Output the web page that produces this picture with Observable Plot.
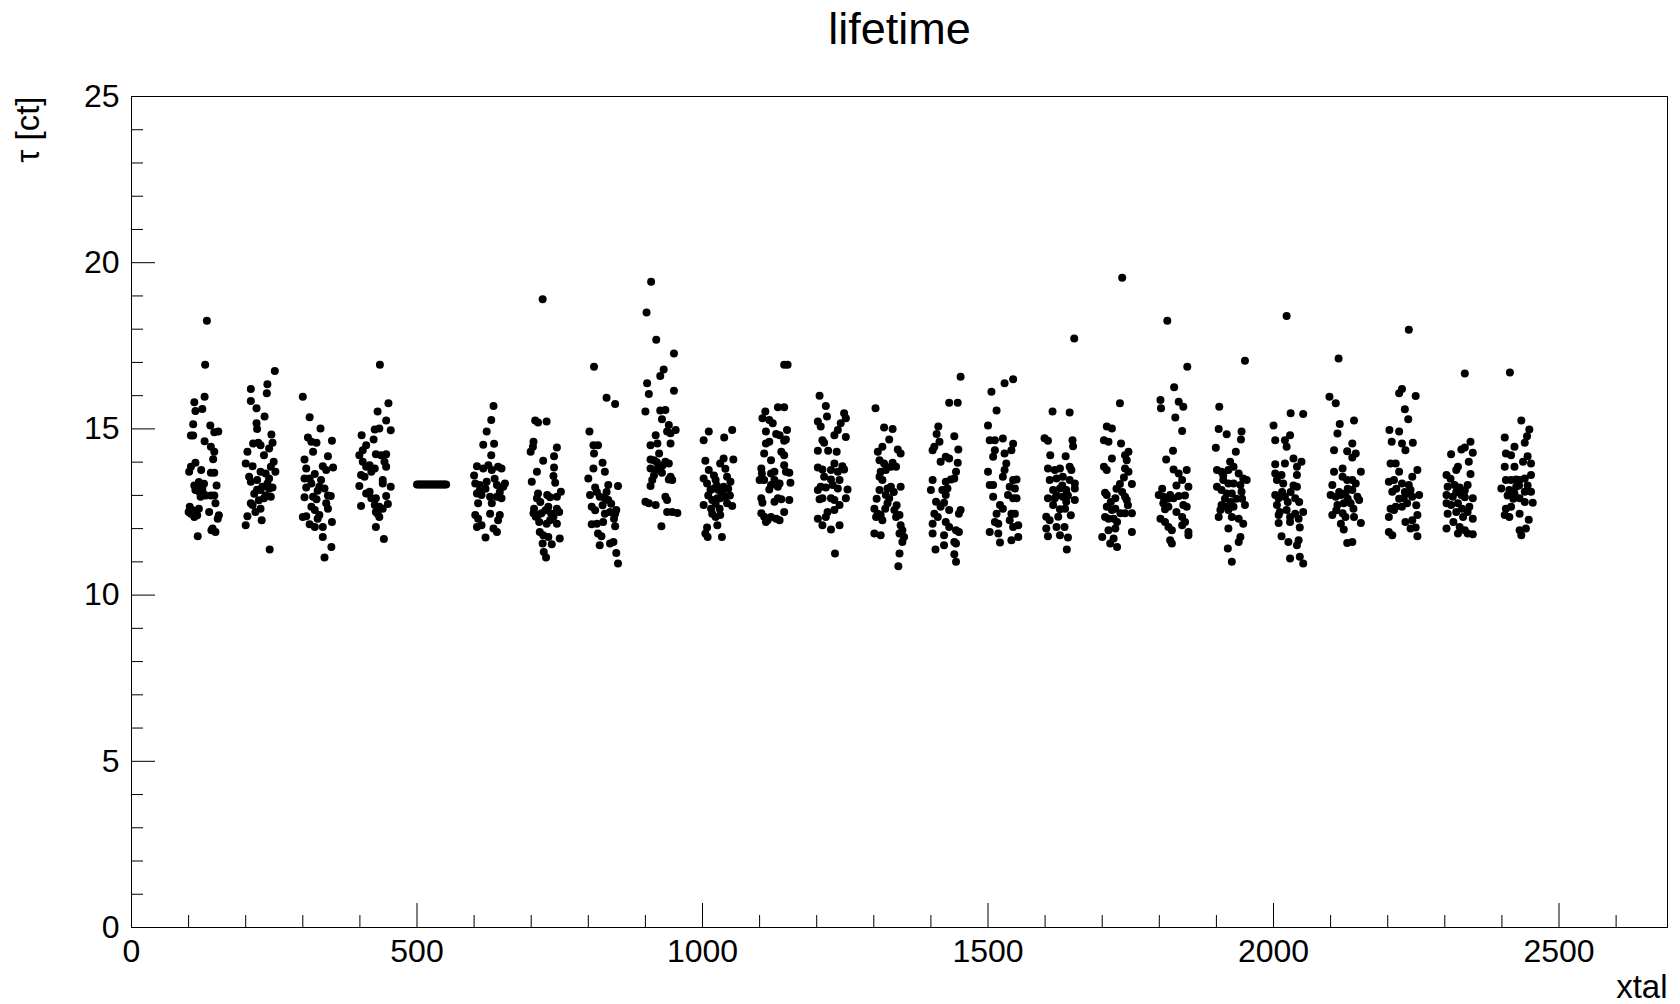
<!DOCTYPE html>
<html><head><meta charset="utf-8">
<script src="https://cdn.jsdelivr.net/npm/d3@7"></script>
<script src="https://cdn.jsdelivr.net/npm/@observablehq/plot@0.6"></script>
<style>body{margin:0;background:#fff;} svg{display:block}</style>
</head><body><div id="chart"></div>
<script>
const title = "lifetime";
const xLabel = "xtal";
const yLabel = "τ [ct]";
const xTicks = [0, 500, 1000, 1500, 2000, 2500];
const xMinorTicks = [100, 200, 300, 400, 600, 700, 800, 900, 1100, 1200, 1300, 1400, 1600, 1700, 1800, 1900, 2100, 2200, 2300, 2400, 2600];
const yTicks = [0, 5, 10, 15, 20, 25];
const yMinorTicks = [1, 2, 3, 4, 6, 7, 8, 9, 11, 12, 13, 14, 16, 17, 18, 19, 21, 22, 23, 24];

const cluster01 = [[132,18.25],[129,16.93],[128,15.97],[110,15.8],[112,15.54],[124,15.6],[108,15.14],[138,15.1],[145,14.9],[152,14.92],[104,14.8],[108,14.8],[128,14.63],[139,14.46],[145,14.31],[143,14.09],[112,13.98],[104,13.86],[101,13.71],[122,13.76],[139,13.68],[145,13.68],[110,13.3],[118,13.4],[127,13.35],[112,13.16],[124,13.2],[130,13.0],[121,12.96],[149,13.3],[145,13.0],[139,13.0],[147,12.76],[102,12.66],[118,12.6],[104,12.45],[110,12.35],[115,12.4],[136,12.5],[153,12.4],[151,12.3],[142,12.0],[147,11.9],[140,11.95],[116,11.77],[114,13.25],[119,13.1],[126,13.05],[107,12.55],[100,12.5]];
const cluster02 = [[251,16.74],[238,16.34],[237,16.07],[209,16.2],[209,15.84],[219,15.62],[233,15.37],[219,15.17],[220,15.0],[245,14.83],[213,14.56],[222,14.58],[226,14.51],[247,14.58],[241,14.41],[203,14.31],[232,14.21],[249,14.01],[244,13.86],[200,13.96],[212,13.88],[226,13.71],[235,13.66],[252,13.71],[206,13.56],[209,13.41],[220,13.46],[229,13.26],[238,13.36],[241,13.51],[220,13.17],[226,13.16],[247,13.24],[241,13.2],[232,12.91],[244,12.96],[209,12.76],[212,12.71],[226,12.6],[217,12.5],[203,12.37],[228,12.25],[200,12.1],[242,11.37],[235,13.0],[223,12.85],[215,13.05]];
const cluster03 = [[300,15.97],[312,15.35],[331,15.01],[309,14.74],[315,14.61],[324,14.58],[351,14.64],[318,14.31],[344,14.18],[303,14.08],[335,13.88],[341,13.76],[353,13.84],[306,13.81],[303,13.51],[312,13.51],[321,13.64],[315,13.36],[332,13.46],[329,13.26],[338,13.21],[326,13.14],[306,13.24],[303,12.94],[318,12.96],[324,12.88],[344,13.0],[349,12.98],[341,12.76],[344,12.6],[315,12.66],[321,12.56],[329,12.41],[326,12.3],[300,12.35],[306,12.37],[312,12.13],[321,12.05],[351,12.2],[335,12.05],[335,11.75],[350,11.45],[338,11.13]];
const cluster04 = [[435,16.93],[450,15.77],[431,15.52],[446,15.25],[426,14.98],[434,15.01],[454,14.96],[403,14.81],[424,14.68],[411,14.51],[405,14.36],[399,14.21],[428,14.24],[437,14.21],[446,14.24],[405,14.01],[411,13.86],[443,14.01],[417,13.91],[426,13.81],[446,13.86],[402,13.61],[408,13.56],[420,13.71],[440,13.46],[440,13.36],[399,13.28],[454,13.26],[411,13.06],[420,12.91],[428,12.91],[417,13.11],[446,12.98],[449,12.74],[402,12.68],[426,12.71],[434,12.66],[440,12.6],[431,12.45],[434,12.35],[428,12.5],[428,12.05],[442,11.69]];
const cluster05 = [[500,13.33],[503,13.33],[506,13.33],[509,13.33],[512,13.33],[515,13.33],[518,13.33],[521,13.33],[524,13.33],[527,13.33],[530,13.33],[533,13.33],[536,13.33],[539,13.33],[542,13.33],[545,13.33],[548,13.33],[551,13.33]];
const cluster06 = [[634,15.69],[630,15.27],[622,14.92],[616,14.52],[635,14.55],[630,14.21],[605,13.88],[616,13.81],[631,13.76],[642,13.86],[648,13.81],[625,13.91],[602,13.36],[610,13.31],[622,13.41],[640,13.31],[651,13.26],[654,13.36],[605,13.06],[613,13.01],[628,12.96],[640,12.96],[648,12.91],[631,12.76],[607,12.76],[602,12.41],[607,12.3],[628,12.45],[645,12.41],[642,12.25],[605,12.05],[613,12.1],[640,11.9],[634,12.0],[620,11.73],[610,13.15],[620,13.2],[645,13.1],[600,13.6],[636,13.5]];
const cluster07 = [[720,18.9],[707,15.25],[712,15.19],[727,15.22],[704,14.61],[703,14.46],[699,14.31],[745,14.44],[740,14.18],[721,14.04],[740,13.84],[739,13.58],[710,13.71],[701,13.41],[742,13.38],[712,13.06],[710,12.91],[728,13.01],[733,12.94],[745,12.96],[752,13.11],[704,12.46],[708,12.36],[712,12.41],[718,12.46],[714,12.2],[730,12.66],[745,12.6],[749,12.5],[739,12.36],[745,12.15],[733,12.25],[727,12.15],[715,11.9],[721,11.8],[730,11.75],[750,11.7],[720,11.55],[736,11.53],[722,11.3],[726,11.13],[705,12.6],[716,12.8],[725,12.55],[735,12.45]];
const cluster08 = [[810,16.87],[832,15.94],[847,15.75],[802,14.92],[809,14.51],[817,14.51],[810,14.26],[825,13.98],[809,13.81],[829,13.71],[800,13.51],[852,13.28],[835,13.31],[812,13.24],[803,13.01],[820,12.96],[829,12.91],[835,12.86],[806,12.66],[829,12.45],[838,12.5],[847,12.45],[849,12.56],[806,12.13],[815,12.15],[826,12.2],[847,12.07],[817,11.85],[823,11.77],[844,11.6],[838,11.55],[820,11.5],[849,11.27],[852,10.95],[815,13.1],[825,12.7],[840,12.75],[845,12.3],[812,12.55],[832,13.1]];
const cluster09 = [[910,19.43],[902,18.5],[919,17.68],[950,17.27],[932,16.79],[926,16.59],[903,16.37],[906,16.05],[950,16.15],[900,15.52],[926,15.55],[935,15.57],[929,15.29],[941,15.12],[953,14.97],[944,14.87],[938,14.92],[918,14.81],[944,14.56],[909,14.51],[921,14.56],[924,14.26],[909,14.08],[915,14.06],[935,14.01],[941,13.96],[926,13.86],[909,13.81],[918,13.76],[929,13.68],[944,13.56],[941,13.48],[947,13.46],[912,13.46],[909,13.28],[935,12.96],[938,12.86],[900,12.81],[906,12.76],[918,12.71],[938,12.5],[947,12.5],[956,12.47],[928,12.07],[920,14.0],[930,13.9],[915,13.6]];
const cluster10 = [[1011,14.92],[1002,14.66],[1052,14.97],[1038,14.74],[1005,14.04],[1037,14.11],[1054,14.08],[1031,13.96],[1011,13.76],[1002,13.51],[1008,13.36],[1023,13.46],[1043,13.56],[1049,13.41],[1020,13.21],[1028,13.16],[1014,13.16],[1037,13.26],[1040,12.96],[1031,12.91],[1017,12.86],[1026,12.91],[1002,12.71],[1052,12.68],[1043,12.76],[1017,12.45],[1031,12.41],[1023,12.35],[1026,12.1],[1008,12.03],[1005,11.85],[1034,11.75],[1009,11.75],[1025,13.3],[1035,13.05],[1045,13.2],[1015,12.6],[1030,12.6],[1020,13.6],[1040,13.8],[1010,13.0],[1048,13.0],[1023,12.75]];
const cluster11 = [[1143,16.93],[1149,16.93],[1132,15.65],[1143,15.65],[1110,15.52],[1105,15.32],[1117,15.27],[1123,15.17],[1148,14.97],[1111,14.92],[1129,14.85],[1135,14.81],[1143,14.64],[1146,14.68],[1111,14.56],[1117,14.61],[1108,14.26],[1138,14.31],[1143,14.21],[1120,14.06],[1143,13.91],[1146,13.71],[1152,13.68],[1103,13.81],[1104,13.66],[1120,13.66],[1126,13.71],[1100,13.46],[1108,13.46],[1126,13.46],[1135,13.36],[1132,13.26],[1120,13.31],[1117,13.18],[1154,13.38],[1103,12.91],[1105,12.78],[1132,12.91],[1138,12.88],[1126,12.81],[1152,12.86],[1103,12.46],[1108,12.36],[1111,12.2],[1114,12.25],[1129,12.3],[1135,12.25],[1143,12.5],[1120,12.35]];
const cluster12 = [[1205,16.0],[1216,15.69],[1218,15.37],[1248,15.47],[1251,15.32],[1202,15.22],[1207,15.07],[1242,15.17],[1237,14.97],[1231,14.81],[1251,14.76],[1210,14.66],[1213,14.58],[1202,14.34],[1220,14.34],[1235,14.31],[1202,13.84],[1210,13.78],[1231,13.96],[1245,13.88],[1225,13.76],[1237,13.71],[1248,13.78],[1213,13.56],[1225,13.48],[1240,13.46],[1207,13.26],[1216,13.24],[1202,13.16],[1228,13.31],[1237,13.21],[1254,13.18],[1205,12.88],[1210,12.91],[1225,12.91],[1231,12.86],[1240,12.71],[1251,12.91],[1219,12.5],[1216,12.35],[1231,12.56],[1202,12.3],[1210,12.1],[1225,11.97],[1240,12.1],[1232,11.25]];
const cluster13 = [[1303,15.62],[1318,15.04],[1333,15.0],[1327,14.68],[1307,14.31],[1315,14.46],[1342,14.38],[1347,14.26],[1310,14.06],[1318,13.96],[1333,13.98],[1339,13.86],[1312,13.71],[1321,13.76],[1330,13.86],[1310,13.56],[1315,13.46],[1310,13.16],[1324,13.21],[1330,13.26],[1347,13.26],[1321,13.01],[1327,12.91],[1324,12.76],[1301,12.6],[1307,12.45],[1304,12.35],[1336,12.56],[1345,12.41],[1339,12.35],[1312,12.41],[1315,12.25],[1301,11.85],[1312,11.8],[1347,12.1],[1350,11.95],[1345,11.85],[1353,11.75],[1350,11.6],[1345,11.25],[1343,10.87],[1305,12.9],[1335,13.1],[1340,12.7],[1320,12.6]];
const cluster14 = [[1452,16.57],[1432,15.79],[1447,15.79],[1413,15.07],[1410,14.85],[1406,14.46],[1403,14.36],[1441,14.78],[1415,14.61],[1448,14.38],[1426,14.16],[1417,14.01],[1432,14.11],[1447,13.98],[1444,13.71],[1403,13.46],[1426,13.41],[1435,13.48],[1441,13.51],[1420,13.16],[1429,13.21],[1426,13.01],[1400,13.16],[1409,12.81],[1423,12.78],[1417,12.66],[1432,12.56],[1452,12.56],[1449,12.45],[1406,12.45],[1412,12.35],[1403,12.15],[1426,12.2],[1432,12.05],[1444,11.95],[1449,11.9],[1403,11.85],[1423,11.8],[1441,11.6],[1444,11.55],[1423,11.5],[1408,11.37],[1441,11.23],[1444,11.0]];
const cluster15 = [[1544,16.49],[1529,16.37],[1506,16.12],[1515,15.55],[1500,15.1],[1503,14.66],[1512,14.66],[1526,14.71],[1544,14.55],[1512,14.36],[1509,14.16],[1529,14.26],[1541,14.36],[1532,13.96],[1529,13.76],[1526,13.56],[1500,13.71],[1544,13.46],[1550,13.48],[1503,13.31],[1509,13.31],[1538,13.26],[1547,13.21],[1535,13.01],[1509,12.96],[1544,12.91],[1550,12.91],[1521,12.71],[1526,12.6],[1541,12.45],[1547,12.45],[1515,12.45],[1512,12.2],[1518,12.15],[1538,12.25],[1544,12.05],[1553,12.1],[1503,11.9],[1518,11.85],[1541,11.65],[1553,11.75],[1521,11.58]];
const cluster16 = [[1651,17.72],[1613,15.52],[1643,15.49],[1599,14.72],[1605,14.64],[1648,14.66],[1649,14.48],[1609,14.21],[1636,14.18],[1605,13.81],[1617,13.76],[1626,13.81],[1643,13.86],[1646,13.76],[1608,13.46],[1620,13.51],[1631,13.56],[1643,13.46],[1652,13.36],[1614,13.16],[1626,13.21],[1637,13.16],[1652,13.21],[1605,12.91],[1617,12.91],[1631,12.96],[1637,12.81],[1652,12.86],[1614,12.71],[1626,12.58],[1602,12.36],[1608,12.25],[1623,12.36],[1602,12.0],[1620,12.05],[1634,12.05],[1605,11.77],[1626,11.8],[1640,11.73],[1638,11.37],[1630,13.3],[1640,13.0],[1620,13.0],[1635,12.6],[1645,12.4]];
const cluster17 = [[1735,19.55],[1731,15.77],[1708,15.07],[1717,15.01],[1703,14.66],[1711,14.61],[1733,14.56],[1740,14.21],[1743,14.06],[1746,14.31],[1717,14.11],[1703,13.86],[1708,13.76],[1740,13.81],[1746,13.71],[1738,13.54],[1731,13.34],[1752,13.34],[1705,13.08],[1708,13.01],[1723,12.91],[1740,12.96],[1743,12.86],[1708,12.66],[1717,12.56],[1723,12.6],[1732,12.46],[1740,12.46],[1752,12.46],[1705,12.35],[1711,12.3],[1720,12.3],[1726,12.2],[1723,12.0],[1711,11.95],[1752,11.9],[1700,11.75],[1720,11.7],[1714,11.55],[1726,11.45],[1725,13.2],[1735,13.1],[1745,12.7],[1715,12.8]];
const cluster18 = [[1814,18.25],[1849,16.87],[1826,16.25],[1802,15.87],[1803,15.62],[1834,15.82],[1842,15.67],[1828,15.34],[1840,14.94],[1824,14.34],[1812,14.08],[1825,13.78],[1834,13.66],[1848,13.76],[1840,13.46],[1851,13.26],[1799,13.01],[1807,12.96],[1819,13.01],[1834,12.98],[1825,12.91],[1807,12.76],[1816,12.66],[1810,12.58],[1842,12.71],[1848,12.66],[1802,12.3],[1810,12.2],[1816,12.05],[1822,11.95],[1840,12.35],[1845,12.2],[1840,12.1],[1851,11.9],[1851,11.8],[1819,11.65],[1822,11.55],[1805,13.2],[1830,13.3],[1815,12.9],[1845,13.0],[1830,12.5]];
const cluster19 = [[1950,17.05],[1905,15.67],[1904,15.0],[1918,14.84],[1944,14.92],[1943,14.68],[1899,14.43],[1934,14.31],[1924,14.01],[1901,13.76],[1909,13.71],[1921,13.76],[1930,13.86],[1939,13.66],[1947,13.51],[1953,13.46],[1912,13.46],[1921,13.36],[1930,13.36],[1942,13.31],[1901,13.26],[1909,13.16],[1918,13.06],[1927,13.06],[1944,13.11],[1909,12.71],[1918,12.66],[1930,12.66],[1950,12.71],[1907,12.56],[1921,12.56],[1904,12.35],[1927,12.35],[1939,12.3],[1947,12.15],[1921,12.0],[1942,11.75],[1939,11.6],[1920,11.4],[1927,11.0],[1915,12.9],[1935,12.9],[1925,12.8],[1945,12.9],[1912,13.6]];
const cluster20 = [[2023,18.4],[2030,15.47],[2052,15.45],[2000,15.1],[2029,14.81],[2020,14.66],[2023,14.46],[2003,14.66],[2035,14.11],[2049,14.01],[2003,13.94],[2020,13.96],[2041,13.86],[2003,13.66],[2014,13.61],[2041,13.61],[2006,13.46],[2017,13.36],[2041,13.26],[2003,13.01],[2009,12.91],[2020,12.96],[2038,12.91],[2006,12.71],[2011,12.5],[2023,12.56],[2038,12.45],[2052,12.5],[2009,12.41],[2029,12.35],[2044,12.3],[2009,12.17],[2029,12.2],[2046,12.03],[2014,11.77],[2026,11.6],[2044,11.65],[2041,11.5],[2029,11.1],[2046,11.15],[2052,10.95],[2030,13.1],[2025,12.8],[2045,12.8],[2035,13.3],[2015,13.1]];
const cluster21 = [[2114,17.12],[2098,15.97],[2109,15.77],[2141,15.25],[2116,15.15],[2112,14.86],[2106,14.36],[2138,14.56],[2129,14.33],[2144,14.26],[2138,14.14],[2106,13.71],[2121,13.81],[2153,13.71],[2138,13.46],[2144,13.36],[2103,13.31],[2121,13.56],[2129,13.46],[2100,13.01],[2109,12.96],[2118,13.01],[2126,13.06],[2138,13.16],[2147,12.96],[2112,12.71],[2123,12.76],[2135,12.76],[2150,12.86],[2103,12.41],[2121,12.46],[2126,12.35],[2141,12.35],[2118,12.15],[2123,11.97],[2153,12.17],[2129,11.57],[2138,11.6],[2130,13.2],[2115,13.1],[2140,12.6],[2110,12.55],[2130,12.9]];
const cluster22 = [[2237,17.98],[2225,16.2],[2220,16.07],[2249,15.99],[2230,15.59],[2236,15.29],[2203,14.97],[2220,14.92],[2207,14.61],[2225,14.56],[2231,14.36],[2244,14.58],[2205,13.96],[2214,13.96],[2252,13.76],[2220,13.71],[2243,13.56],[2202,13.41],[2211,13.46],[2225,13.36],[2237,13.31],[2255,13.01],[2240,13.16],[2208,13.11],[2228,12.91],[2234,13.06],[2243,12.96],[2214,12.66],[2225,12.66],[2234,12.76],[2205,12.6],[2211,12.56],[2202,12.35],[2252,12.41],[2243,12.25],[2231,12.2],[2240,12.0],[2249,12.03],[2202,11.9],[2208,11.8],[2252,11.77],[2215,13.2],[2230,13.1],[2250,12.7],[2220,12.9]];
const cluster23 = [[2335,16.67],[2345,14.61],[2311,14.24],[2329,14.38],[2335,14.44],[2349,14.28],[2342,14.01],[2323,13.86],[2320,13.76],[2303,13.61],[2345,13.64],[2305,13.26],[2317,13.31],[2326,13.24],[2340,13.31],[2303,13.01],[2314,12.96],[2329,13.01],[2335,12.94],[2349,12.91],[2303,12.76],[2311,12.71],[2323,12.76],[2343,12.66],[2305,12.45],[2320,12.5],[2332,12.35],[2349,12.3],[2303,12.0],[2326,12.05],[2335,11.95],[2349,11.83],[2323,11.85],[2340,11.85],[2320,13.1],[2335,13.15],[2310,13.5],[2330,12.6],[2315,12.2],[2340,12.5]];
const cluster24 = [[2414,16.7],[2434,15.25],[2448,14.98],[2444,14.78],[2440,14.58],[2405,14.74],[2422,14.46],[2407,14.26],[2416,14.21],[2445,14.18],[2451,13.96],[2405,13.86],[2422,13.86],[2437,14.01],[2451,13.61],[2440,13.51],[2407,13.46],[2416,13.46],[2425,13.48],[2431,13.46],[2399,13.21],[2413,13.16],[2425,13.26],[2422,13.06],[2440,13.11],[2451,13.11],[2431,12.91],[2454,12.78],[2407,12.6],[2416,12.66],[2405,12.41],[2413,12.35],[2431,12.45],[2447,12.27],[2442,12.0],[2431,11.95],[2434,11.8],[2410,13.0],[2430,13.3],[2445,13.3],[2420,12.9],[2440,12.8]];

const clusters = [cluster01, cluster02, cluster03, cluster04, cluster05, cluster06, cluster07, cluster08, cluster09, cluster10, cluster11, cluster12, cluster13, cluster14, cluster15, cluster16, cluster17, cluster18, cluster19, cluster20, cluster21, cluster22, cluster23, cluster24];
const points = clusters.flat().map(([x, tau]) => ({x, tau}));

const W = 1680, H = 1004, mL = 131, mR = 13, mT = 96, mB = 77;
const innerW = W - mL - mR, innerH = H - mT - mB;
const majorLen = 24, minorLen = 12;
const font = "'Liberation Sans', Arimo, Arial, Helvetica, sans-serif";

const chart = Plot.plot({
  width: W, height: H,
  marginLeft: mL, marginRight: mR, marginTop: mT, marginBottom: mB,
  style: {fontFamily: font, fontSize: "32px", background: "#fff", color: "#000"},
  x: {domain: [0, 2690]},
  y: {domain: [0, 25]},
  marks: [
    Plot.frame({stroke: "#000", strokeWidth: 1}),
    Plot.tickX(xTicks, {x: d => d, insetTop: innerH - majorLen, stroke: "#000"}),
    Plot.tickX(xMinorTicks, {x: d => d, insetTop: innerH - minorLen, stroke: "#000"}),
    Plot.tickY(yTicks, {y: d => d, insetRight: innerW - majorLen, stroke: "#000"}),
    Plot.tickY(yMinorTicks, {y: d => d, insetRight: innerW - minorLen, stroke: "#000"}),
    Plot.axisX(xTicks, {tickSize: 0, tickPadding: 12, fontSize: 32, label: null, tickFormat: d => String(d)}),
    Plot.axisY(yTicks, {tickSize: 0, tickPadding: 12, fontSize: 32, label: null, tickFormat: d => String(d)}),
    Plot.dot(points, {x: "x", y: "tau", r: 4, fill: "#000"}),
    Plot.text([title], {text: d => d, frameAnchor: "top", dy: -53, lineAnchor: "bottom", fontSize: 45}),
    Plot.text([xLabel], {text: d => d, frameAnchor: "bottom-right", textAnchor: "end", lineAnchor: "bottom", dy: 70, fontSize: 33}),
    Plot.text([yLabel], {text: d => d, frameAnchor: "top-left", textAnchor: "end", lineAnchor: "bottom", rotate: -90, dx: -93, fontSize: 33})
  ]
});
document.getElementById("chart").appendChild(chart);
</script>
</body></html>
